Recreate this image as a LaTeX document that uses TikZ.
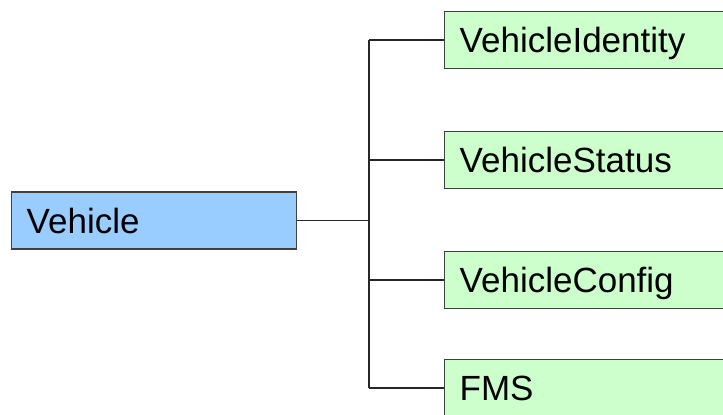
\documentclass[tikz,border=0pt]{standalone}
\usepackage{fontspec}
\setmainfont{Liberation Sans}
\begin{document}
\begin{tikzpicture}[x=1pt,y=-1pt,
  box/.style={draw=black!75, line width=1.4pt, anchor=west,
    minimum height=57pt, text height=25pt, text depth=0pt,
    inner xsep=15pt, align=left, font=\fontsize{35}{40}\selectfont},
  parent/.style={box, fill=blueFill, text width=255pt},
  child/.style={box, fill=greenFill, text width=270pt},
  link/.style={draw=black!85, line width=1.4pt}]
\definecolor{blueFill}{HTML}{99CCFF}
\definecolor{greenFill}{HTML}{CCFFCC}
\useasboundingbox (0,0) rectangle (723,415);
\clip (0,0) rectangle (723,415);
\fill[white] (0,0) rectangle (723,415);

\node[parent] (veh) at (11,220.5) {Vehicle};
\node[child] (ident) at (444,40) {VehicleIdentity};
\node[child] (stat) at (444,160) {VehicleStatus};
\node[child] (conf) at (444,280) {VehicleConfig};
\node[child] (fms) at (444,388) {FMS};

\coordinate (bus) at (369,220.5);
\draw[link] (veh.east) -- (bus);
\draw[link] (bus |- ident.west) -- (bus |- fms.west);
\foreach \c in {ident,stat,conf,fms}
  \draw[link] (bus |- \c.west) -- (\c.west);
\end{tikzpicture}
\end{document}
